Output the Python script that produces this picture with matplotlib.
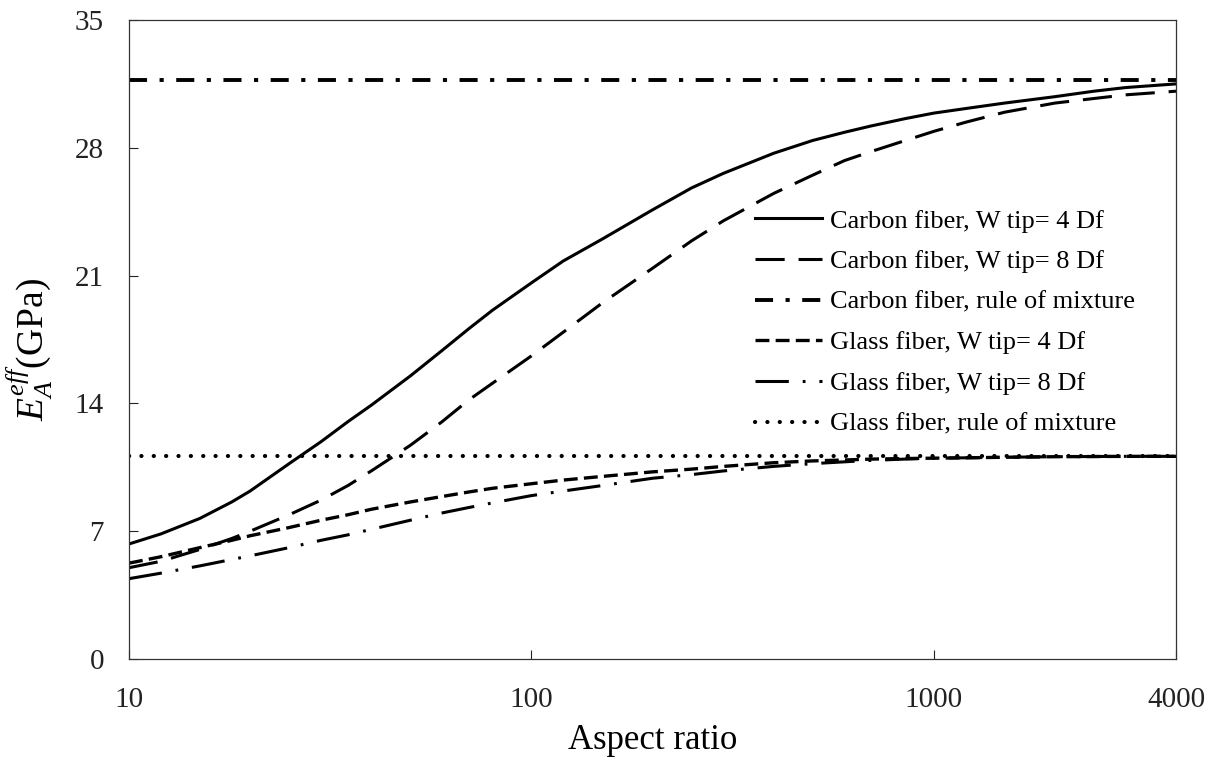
import numpy as np
import matplotlib
matplotlib.use("Agg")
import matplotlib.pyplot as plt

# Serif look (Times-like)
plt.rcParams['font.family'] = ['Liberation Serif', 'DejaVu Serif']
plt.rcParams['mathtext.fontset'] = 'custom'
plt.rcParams['mathtext.rm'] = 'Liberation Serif'
plt.rcParams['mathtext.it'] = 'Liberation Serif:italic'
plt.rcParams['lines.scale_dashes'] = False

# Data
aspect = [10, 12, 15, 18, 20, 25, 30, 35, 40, 50, 60, 70, 80, 100, 120, 150,
          200, 250, 300, 400, 500, 600, 700, 850, 1000, 1200, 1500, 2000,
          2500, 3000, 4000]
carbon_4df = [6.3, 6.85, 7.7, 8.6, 9.2, 10.7, 11.9, 13.0, 13.9, 15.5, 16.9,
              18.1, 19.1, 20.6, 21.8, 23.0, 24.6, 25.8, 26.6, 27.7, 28.4,
              28.85, 29.2, 29.6, 29.9, 30.15, 30.45, 30.8, 31.1, 31.3, 31.5]
carbon_8df = [5.0, 5.35, 6.0, 6.6, 7.0, 7.9, 8.7, 9.5, 10.3, 11.7, 13.0,
              14.2, 15.1, 16.6, 17.9, 19.5, 21.4, 22.9, 24.0, 25.5, 26.5,
              27.3, 27.8, 28.4, 28.9, 29.4, 29.95, 30.45, 30.7, 30.9, 31.1]
glass_4df = [5.25, 5.6, 6.1, 6.5, 6.75, 7.2, 7.6, 7.9, 8.2, 8.6, 8.9, 9.15,
             9.35, 9.6, 9.8, 10.0, 10.25, 10.4, 10.55, 10.75, 10.85, 10.9,
             10.95, 10.98, 11.0, 11.02, 11.05, 11.08, 11.09, 11.1, 11.1]
glass_8df = [4.4, 4.7, 5.1, 5.45, 5.65, 6.1, 6.5, 6.8, 7.1, 7.6, 8.0, 8.3,
             8.55, 8.95, 9.2, 9.5, 9.9, 10.1, 10.3, 10.55, 10.7, 10.8, 10.88,
             10.95, 11.0, 11.02, 11.05, 11.08, 11.09, 11.1, 11.1]
carbon_rom = 31.7
glass_rom = 11.1

labels = ['Carbon fiber, W tip= 4 Df', 'Carbon fiber, W tip= 8 Df',
          'Carbon fiber, rule of mixture', 'Glass fiber, W tip= 4 Df',
          'Glass fiber, W tip= 8 Df', 'Glass fiber, rule of mixture']
xticks = [10, 100, 1000, 4000]
xtick_labels = ['10', '100', '1000', '4000']
yticks = [0, 7, 14, 21, 28, 35]

x = np.array(aspect)
x_full = np.array([aspect[0], aspect[-1]])

fig = plt.figure(figsize=(12.12, 7.65), dpi=100)
ax = fig.add_axes([129 / 1212, 1 - 659 / 765, 1047 / 1212, 639 / 765])

ax.plot(x, carbon_4df, color='black', lw=2.2, linestyle='-', label=labels[0])
ax.plot(x, carbon_8df, color='black', lw=2.2, linestyle=(0, (21, 10)), label=labels[1])
ax.plot(x_full, [carbon_rom] * 2, color='black', lw=2.8,
        linestyle=(0, (13, 9, 3, 9)), label=labels[2])
ax.plot(x, glass_4df, color='black', lw=2.4, linestyle=(0, (10, 4.5)), label=labels[3])
ax.plot(x, glass_8df, color='black', lw=2.2,
        linestyle=(0, (24, 10, 2, 10)), label=labels[4])
ax.plot(x_full, [glass_rom] * 2, color='black', lw=3.0,
        linestyle=(0, (0.1, 8.8)), dash_capstyle='round', label=labels[5])

ax.set_xscale('log')
ax.set_xlim(10, 4000)
ax.set_ylim(0, 35)
ax.set_xticks(xticks)
ax.set_xticklabels(xtick_labels)
ax.xaxis.set_minor_locator(matplotlib.ticker.NullLocator())
ax.set_yticks(yticks)
ax.tick_params(axis='both', direction='in', length=6.5, width=0.8,
               labelsize=21, colors='#222222')
ax.tick_params(axis='y', pad=18)
ax.tick_params(axis='x', pad=20)
for s in ax.spines.values():
    s.set_linewidth(0.9)
    s.set_color('#333333')

ax.set_xlabel('Aspect ratio', fontsize=25, labelpad=8)
ax.set_ylabel(r'$E_A^{eff}$(GPa)', fontsize=27)
ax.yaxis.set_label_coords(-0.071, 0.485)

ax.legend(loc='upper left', bbox_to_anchor=(0.598, 0.704), frameon=False,
          fontsize=19, handlelength=2.53, handletextpad=0.3, labelspacing=0.65,
          borderpad=0, borderaxespad=0)

fig.savefig('out.png', dpi=100)
